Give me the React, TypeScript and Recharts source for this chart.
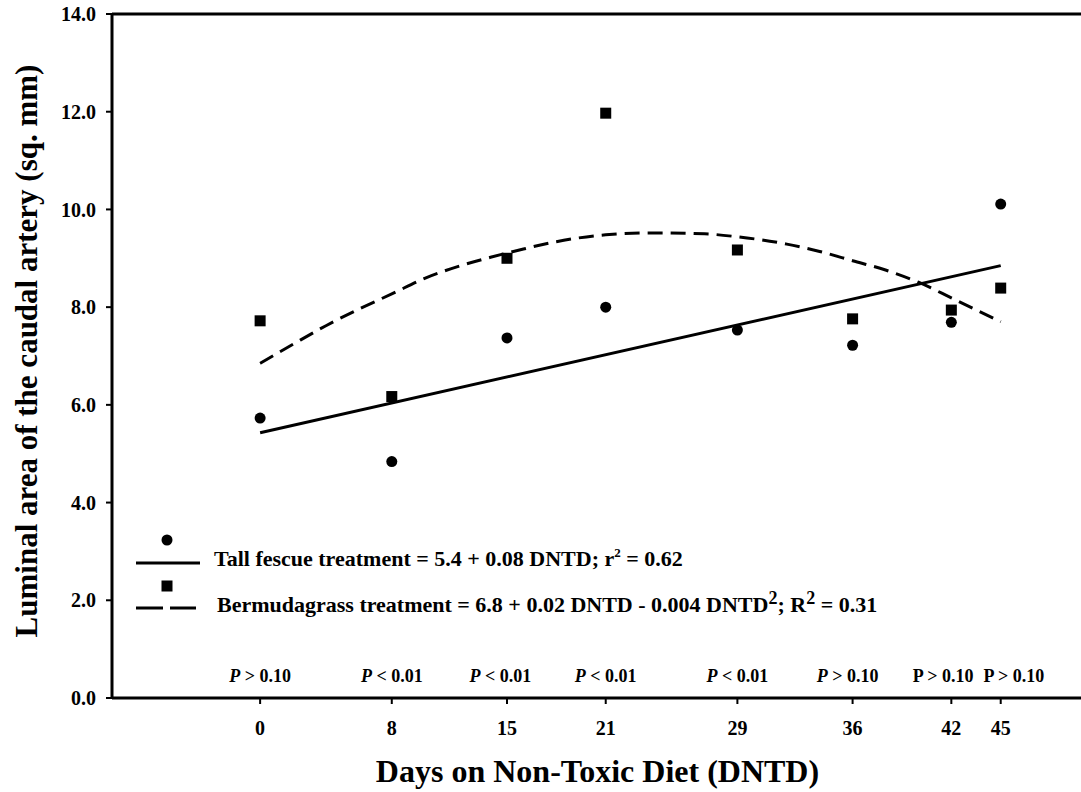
import React from "react";
import {
  ComposedChart,
  Line,
  Scatter,
  XAxis,
  YAxis,
  ReferenceLine,
  Legend,
} from "recharts";

// days the cows were sampled on the non-toxic diet
const days = [0, 8, 15, 21, 29, 36, 42, 45];
const tallFescue = [5.73, 4.84, 7.37, 8.0, 7.53, 7.22, 7.69, 10.11];
const bermudagrass = [7.72, 6.17, 9.0, 11.97, 9.17, 7.76, 7.94, 8.39];

// fitted regression lines
const fescueFitDays = [0, 45];
const fescueFitValues = [5.43, 8.85];
const bermudaFitDays = [0, 2, 4, 6, 8, 10, 12, 14, 16, 18, 21, 24, 27, 29, 32, 34, 36, 38, 40, 42, 45];
const bermudaFitValues = [
  6.85, 7.24, 7.62, 7.96, 8.27, 8.59, 8.83, 9.02, 9.19, 9.34, 9.48, 9.52, 9.5, 9.44, 9.29, 9.14,
  8.95, 8.76, 8.51, 8.19, 7.7,
];

// P-value row above the x axis
const pLabelDays = [0, 8, 14.6, 21, 29, 35.7, 41.5, 45.8];
const pLabelText = ["> 0.10", "< 0.01", "< 0.01", "< 0.01", "< 0.01", "> 0.10", "> 0.10", "> 0.10"];
const pLabelItalic = [true, true, true, true, true, true, false, false];

const yTicks = [0, 2, 4, 6, 8, 10, 12, 14];

const FONT = "'Liberation Serif', 'Times New Roman', serif";
const P_ROW = 0.33;

const fescuePoints = days.map((d, i) => ({ day: d, value: tallFescue[i] }));
const bermudaPoints = days.map((d, i) => ({ day: d, value: bermudagrass[i] }));
const fescueFit = fescueFitDays.map((d, i) => ({ day: d, value: fescueFitValues[i] }));
const bermudaFit = bermudaFitDays.map((d, i) => ({ day: d, value: bermudaFitValues[i] }));
const pLabels = pLabelDays.map((d, i) => ({
  day: d,
  value: P_ROW,
  text: pLabelText[i],
  italic: pLabelItalic[i],
}));

const tickStyle = { fill: "#000", fontSize: 20, fontWeight: 700, fontFamily: FONT };

function CircleDot(props: any) {
  const { cx, cy } = props;
  if (cx == null || cy == null) return null;
  return <circle cx={cx} cy={cy} r={5.5} fill="#000" />;
}

function SquareDot(props: any) {
  const { cx, cy } = props;
  if (cx == null || cy == null) return null;
  return <rect x={cx - 5.5} y={cy - 5.5} width={11} height={11} fill="#000" />;
}

function PLabel(props: any) {
  const { cx, cy, payload } = props;
  if (cx == null || cy == null) return null;
  return (
    <text
      x={cx}
      y={cy}
      textAnchor="middle"
      fontFamily={FONT}
      fontWeight={700}
      fontSize={18}
      fill="#000"
    >
      <tspan fontStyle={payload.italic ? "italic" : "normal"}>P</tspan>
      <tspan>{" " + payload.text}</tspan>
    </text>
  );
}

function XTitle(props: any) {
  const { viewBox } = props;
  return (
    <text
      x={viewBox.x + viewBox.width / 2}
      y={viewBox.y + 84}
      textAnchor="middle"
      fontFamily={FONT}
      fontWeight={700}
      fontSize={32}
      fill="#000"
    >
      Days on Non-Toxic Diet (DNTD)
    </text>
  );
}

function YTitle(props: any) {
  const { viewBox } = props;
  const cy = viewBox.y + viewBox.height / 2 - 5;
  return (
    <text
      transform={`translate(37, ${cy}) rotate(-90)`}
      textAnchor="middle"
      fontFamily={FONT}
      fontWeight={700}
      fontSize={31}
      fill="#000"
    >
      Luminal area of the caudal artery (sq. mm)
    </text>
  );
}

function LegendBox() {
  const text = { fontFamily: FONT, fontWeight: 700, fontSize: 22, fill: "#000" };
  return (
    <svg width={780} height={110} style={{ display: "block" }}>
      <circle cx={47} cy={20} r={5.5} fill="#000" />
      <line x1={16} y1={43} x2={80} y2={43} stroke="#000" strokeWidth={3} />
      <text x={94} y={46} {...text}>
        Tall fescue treatment = 5.4 + 0.08 DNTD; r
        <tspan fontSize={13} dy={-9}>2</tspan>
        <tspan dy={9}> = 0.62</tspan>
      </text>
      <rect x={41.5} y={60.5} width={11} height={11} fill="#000" />
      <line x1={16} y1={88} x2={76} y2={88} stroke="#000" strokeWidth={3} strokeDasharray="27 7" />
      <text x={97} y={92} {...text}>
        Bermudagrass treatment = 6.8 + 0.02 DNTD - 0.004 DNTD
        <tspan fontSize={18} dy={-8}>2</tspan>
        <tspan dy={8}>; R</tspan>
        <tspan fontSize={18} dy={-8}>2</tspan>
        <tspan dy={8}> = 0.31</tspan>
      </text>
    </svg>
  );
}

export default function App() {
  return (
    <div
      style={{
        position: "absolute",
        left: 0,
        top: 0,
        width: 1081,
        height: 792,
        overflow: "hidden",
        background: "#fff",
      }}
    >
      <ComposedChart width={1083} height={792} margin={{ top: 14, right: 0, bottom: 0, left: 0 }}>
        <XAxis
          type="number"
          dataKey="day"
          domain={[-9, 50]}
          ticks={days}
          allowDataOverflow
          height={94}
          tick={tickStyle}
          tickSize={6}
          tickMargin={17}
          axisLine={{ stroke: "#000", strokeWidth: 3 }}
          tickLine={{ stroke: "#000", strokeWidth: 2 }}
          label={<XTitle />}
        />
        <YAxis
          type="number"
          domain={[0, 14]}
          ticks={yTicks}
          width={112}
          tickFormatter={(v: number) => v.toFixed(1)}
          tick={tickStyle}
          tickSize={6}
          tickMargin={10}
          axisLine={{ stroke: "#000", strokeWidth: 3 }}
          tickLine={{ stroke: "#000", strokeWidth: 2 }}
          label={<YTitle />}
        />
        <ReferenceLine y={14} stroke="#000" strokeWidth={3} />
        <Legend
          layout="horizontal"
          verticalAlign="middle"
          align="center"
          wrapperStyle={{ left: 120, top: 520, width: 780, height: 110 }}
          content={() => <LegendBox />}
        />
        <Line
          data={fescueFit}
          dataKey="value"
          type="linear"
          stroke="#000"
          strokeWidth={3}
          dot={false}
          activeDot={false}
          isAnimationActive={false}
          legendType="none"
        />
        <Line
          data={bermudaFit}
          dataKey="value"
          type="monotone"
          stroke="#000"
          strokeWidth={3}
          strokeDasharray="15 8"
          dot={false}
          activeDot={false}
          isAnimationActive={false}
          legendType="none"
        />
        <Scatter
          data={fescuePoints}
          dataKey="value"
          shape={<CircleDot />}
          isAnimationActive={false}
          legendType="none"
        />
        <Scatter
          data={bermudaPoints}
          dataKey="value"
          shape={<SquareDot />}
          isAnimationActive={false}
          legendType="none"
        />
        <Scatter
          data={pLabels}
          dataKey="value"
          shape={<PLabel />}
          isAnimationActive={false}
          legendType="none"
        />
      </ComposedChart>
    </div>
  );
}
